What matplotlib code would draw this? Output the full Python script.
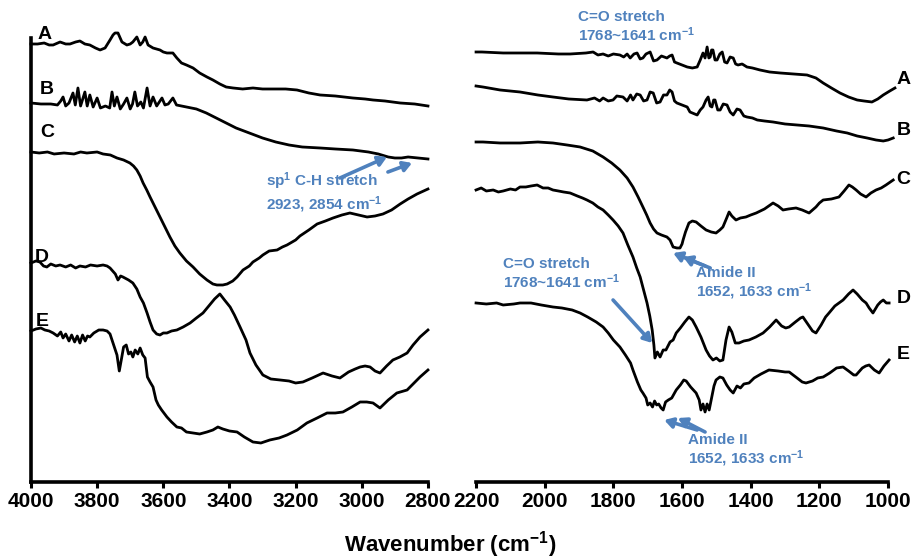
import matplotlib
matplotlib.use("Agg")
import matplotlib.pyplot as plt

plt.rcParams["font.family"] = ["Liberation Sans", "DejaVu Sans"]
plt.rcParams["font.weight"] = "bold"
plt.rcParams["mathtext.fontset"] = "custom"
plt.rcParams["mathtext.rm"] = "Liberation Sans:bold"
plt.rcParams["mathtext.bf"] = "Liberation Sans:bold"
plt.rcParams["mathtext.it"] = "Liberation Sans:bold"

BLUE = "#4F81BD"

# ---- high wavenumber region, (cm-1, stacked transmittance a.u.) ----
left_a = [(4000, 456), (3980, 456), (3960, 457), (3945, 455), (3933, 455), (3912, 458), (3895, 456),
          (3882, 456), (3865, 458), (3852, 459), (3837, 456), (3822, 455), (3805, 452), (3791, 450),
          (3776, 452), (3761, 460), (3752, 465), (3746, 467), (3737, 467), (3725, 458), (3710, 455),
          (3700, 456), (3692, 458), (3680, 463), (3670, 455), (3662, 458), (3655, 463), (3646, 455),
          (3631, 452), (3610, 450), (3600, 448), (3589, 447), (3571, 447), (3559, 442), (3545, 437),
          (3530, 435), (3510, 432), (3490, 427), (3468, 423), (3450, 420), (3429, 416), (3410, 413),
          (3389, 412), (3360, 411), (3329, 412), (3300, 411), (3260, 411), (3230, 411), (3196, 410),
          (3160, 407), (3126, 405), (3080, 404), (3027, 402), (2990, 401), (2966, 400), (2930, 399),
          (2884, 397), (2840, 396), (2800, 394)]
left_b = [(4000, 397), (3970, 396), (3940, 396), (3920, 395), (3910, 399), (3903, 403), (3895, 394),
          (3885, 397), (3873, 407), (3866, 395), (3858, 412), (3850, 394), (3837, 408), (3830, 394),
          (3822, 405), (3812, 393), (3800, 402), (3790, 392), (3775, 394), (3762, 392), (3755, 408),
          (3748, 394), (3740, 403), (3730, 391), (3720, 396), (3710, 402), (3700, 391), (3693, 396),
          (3686, 408), (3678, 394), (3668, 398), (3660, 392), (3649, 412), (3640, 394), (3631, 403),
          (3620, 394), (3604, 402), (3595, 395), (3585, 396), (3571, 402), (3560, 395), (3530, 393),
          (3500, 391), (3470, 387), (3440, 382), (3410, 377), (3380, 372), (3340, 367), (3300, 362),
          (3260, 358), (3220, 355), (3180, 353), (3126, 352), (3080, 351), (3027, 350), (2980, 348),
          (2950, 346), (2920, 343), (2900, 342), (2880, 342), (2860, 343), (2830, 342), (2800, 341)]
left_c = [(4000, 348), (3975, 347), (3950, 348), (3930, 346), (3900, 347), (3870, 346), (3850, 348),
          (3831, 347), (3800, 348), (3782, 346), (3760, 345), (3740, 342), (3720, 340), (3701, 337),
          (3690, 334), (3680, 330), (3670, 324), (3661, 317), (3650, 310), (3640, 303), (3625, 293),
          (3610, 283), (3595, 273), (3580, 263), (3565, 254), (3550, 247), (3530, 239), (3510, 233),
          (3490, 226), (3468, 220), (3450, 216), (3438, 215), (3420, 215), (3407, 216), (3390, 219),
          (3377, 223), (3359, 230), (3340, 234), (3329, 238), (3310, 242), (3299, 245), (3280, 249),
          (3256, 250), (3240, 253), (3226, 255), (3200, 260), (3187, 264), (3160, 270), (3135, 276),
          (3110, 279), (3087, 282), (3060, 285), (3036, 287), (3010, 285), (2984, 283), (2960, 284),
          (2936, 286), (2910, 290), (2884, 296), (2860, 301), (2833, 306), (2800, 311)]
left_d = [(4000, 237), (3985, 239), (3973, 238), (3962, 234), (3952, 233), (3940, 236), (3925, 234),
          (3912, 235), (3895, 233), (3880, 235), (3865, 232), (3852, 234), (3835, 233), (3820, 235),
          (3800, 234), (3782, 235), (3770, 234), (3761, 232), (3745, 226), (3737, 220), (3729, 224),
          (3722, 223), (3705, 220), (3692, 217), (3680, 211), (3670, 203), (3660, 197), (3649, 187),
          (3640, 178), (3631, 170), (3620, 166), (3610, 165), (3600, 167), (3589, 167), (3575, 169),
          (3559, 170), (3540, 173), (3519, 177), (3500, 182), (3480, 187), (3460, 195), (3445, 201),
          (3429, 206), (3415, 200), (3398, 193), (3385, 185), (3368, 173), (3350, 160), (3338, 147),
          (3320, 135), (3299, 125), (3275, 121), (3247, 120), (3220, 119), (3200, 117), (3178, 118),
          (3150, 122), (3117, 127), (3090, 124), (3066, 122), (3040, 128), (3020, 131), (3005, 133),
          (2990, 134), (2975, 133), (2960, 129), (2945, 127), (2925, 134), (2906, 140), (2885, 143),
          (2863, 147), (2845, 155), (2824, 163), (2800, 170)]
left_e = [(4000, 169), (3985, 171), (3970, 172), (3958, 170), (3945, 169), (3933, 167), (3920, 164),
          (3910, 168), (3903, 162), (3895, 166), (3885, 159), (3877, 165), (3868, 158), (3860, 164),
          (3852, 157), (3844, 165), (3836, 159), (3829, 164), (3822, 163), (3810, 167), (3795, 170),
          (3782, 170), (3770, 169), (3761, 166), (3752, 157), (3745, 150), (3740, 145), (3733, 129),
          (3727, 140), (3720, 153), (3712, 155), (3705, 146), (3698, 148), (3692, 143), (3685, 150),
          (3677, 146), (3670, 152), (3662, 145), (3655, 142), (3648, 123), (3640, 118), (3631, 113),
          (3622, 100), (3615, 95), (3605, 90), (3589, 83), (3575, 78), (3559, 73), (3545, 72),
          (3530, 68), (3510, 67), (3490, 66), (3468, 68), (3450, 70), (3435, 73), (3420, 71),
          (3400, 69), (3377, 68), (3355, 63), (3329, 58), (3305, 57), (3278, 60), (3250, 62),
          (3226, 65), (3195, 70), (3166, 77), (3135, 82), (3105, 87), (3080, 87), (3057, 88),
          (3030, 93), (3005, 98), (2985, 98), (2966, 97), (2945, 92), (2920, 100), (2894, 107),
          (2863, 110), (2845, 116), (2824, 123), (2800, 130)]

# ---- fingerprint region ----
right_a = [(2200, 448), (2183, 448), (2121, 447), (2060, 447), (2022, 447), (1960, 446), (1926, 446),
           (1880, 447), (1859, 448), (1845, 445), (1830, 446), (1815, 444), (1800, 446), (1781, 445),
           (1770, 443), (1760, 446), (1751, 442), (1740, 446), (1731, 447), (1722, 441), (1714, 442),
           (1705, 446), (1693, 448), (1683, 439), (1673, 440), (1660, 444), (1644, 442), (1636, 444),
           (1629, 445), (1622, 438), (1615, 437), (1600, 435), (1585, 433), (1570, 432), (1556, 433),
           (1547, 440), (1539, 447), (1533, 442), (1527, 453), (1522, 442), (1518, 443), (1514, 450),
           (1510, 450), (1504, 440), (1498, 440), (1490, 446), (1483, 448), (1476, 438), (1469, 437),
           (1460, 443), (1451, 442), (1444, 436), (1437, 435), (1425, 436), (1411, 433), (1395, 432),
           (1373, 430), (1345, 428), (1314, 427), (1275, 426), (1236, 425), (1210, 422), (1189, 417),
           (1165, 412), (1140, 407), (1115, 403), (1090, 400), (1070, 399), (1047, 398), (1030, 401),
           (1014, 405), (995, 409), (980, 412)]
right_b = [(2200, 414), (2180, 413), (2130, 410), (2072, 408), (2020, 405), (1976, 403), (1930, 401),
           (1877, 400), (1855, 402), (1840, 399), (1830, 402), (1815, 399), (1801, 400), (1790, 404),
           (1772, 403), (1760, 399), (1750, 405), (1743, 400), (1732, 406), (1722, 405), (1712, 399),
           (1702, 400), (1693, 408), (1684, 407), (1674, 397), (1664, 398), (1654, 405), (1644, 405),
           (1636, 410), (1629, 408), (1622, 399), (1615, 397), (1600, 395), (1585, 393), (1577, 388),
           (1556, 385), (1547, 390), (1539, 393), (1530, 400), (1524, 403), (1518, 394), (1513, 393),
           (1508, 400), (1504, 400), (1496, 390), (1489, 390), (1480, 396), (1469, 395), (1460, 388),
           (1451, 385), (1440, 391), (1431, 390), (1420, 384), (1411, 383), (1395, 382), (1381, 380),
           (1360, 379), (1335, 378), (1300, 376), (1265, 375), (1230, 374), (1189, 372), (1150, 369),
           (1119, 367), (1090, 364), (1061, 362), (1035, 360), (1014, 359), (1000, 360), (985, 362)]
right_c = [(2200, 358), (2180, 358), (2130, 357), (2072, 357), (2020, 358), (1976, 357), (1935, 355),
           (1897, 353), (1860, 349), (1830, 343), (1805, 337), (1781, 330), (1760, 322), (1743, 313),
           (1728, 303), (1714, 293), (1703, 285), (1693, 277), (1683, 271), (1673, 267), (1660, 265),
           (1644, 263), (1635, 260), (1626, 253), (1615, 252), (1606, 252), (1600, 256), (1597, 260),
           (1590, 268), (1580, 277), (1570, 279), (1559, 278), (1545, 274), (1530, 270), (1515, 268),
           (1501, 267), (1490, 270), (1481, 273), (1470, 282), (1463, 288), (1455, 284), (1443, 280),
           (1430, 282), (1414, 283), (1400, 285), (1384, 287), (1360, 291), (1335, 297), (1320, 294),
           (1306, 290), (1290, 291), (1268, 292), (1250, 290), (1230, 287), (1220, 290), (1210, 293),
           (1200, 297), (1189, 300), (1165, 301), (1143, 303), (1128, 309), (1114, 315), (1104, 313),
           (1093, 310), (1080, 306), (1064, 303), (1050, 307), (1035, 310), (1020, 312), (1006, 315),
           (985, 320)]
right_d = [(2200, 310), (2185, 312), (2170, 309), (2150, 310), (2135, 308), (2121, 309), (2100, 311),
           (2085, 310), (2072, 313), (2055, 313), (2040, 314), (2022, 315), (2005, 312), (1990, 312),
           (1976, 310), (1960, 309), (1945, 308), (1926, 307), (1905, 304), (1890, 302), (1877, 300),
           (1860, 297), (1845, 293), (1830, 290), (1815, 285), (1801, 280), (1786, 274), (1772, 267),
           (1758, 255), (1743, 243), (1732, 232), (1722, 223), (1712, 210), (1702, 197), (1694, 184),
           (1687, 170), (1682, 155), (1679, 142), (1672, 148), (1664, 143), (1655, 150), (1647, 150),
           (1635, 158), (1626, 160), (1617, 167), (1605, 172), (1592, 178), (1580, 183), (1570, 180),
           (1559, 173), (1545, 163), (1530, 150), (1520, 144), (1510, 140), (1500, 142), (1490, 139),
           (1481, 140), (1472, 160), (1463, 173), (1455, 168), (1445, 157), (1434, 157), (1420, 159),
           (1405, 160), (1385, 163), (1364, 167), (1345, 173), (1326, 180), (1310, 174), (1298, 172),
           (1288, 173), (1270, 178), (1255, 182), (1248, 183), (1230, 174), (1220, 169), (1210, 167),
           (1195, 175), (1182, 183), (1172, 187), (1155, 194), (1131, 200), (1115, 206), (1102, 210),
           (1090, 206), (1075, 200), (1064, 197), (1055, 192), (1044, 187), (1030, 195), (1022, 198),
           (1014, 200), (1005, 197), (997, 197)]
right_e = [(2200, 197), (2170, 196), (2140, 197), (2121, 195), (2090, 196), (2072, 197), (2040, 197),
           (2010, 195), (1976, 193), (1950, 192), (1920, 190), (1897, 187), (1875, 183), (1850, 178),
           (1830, 173), (1815, 167), (1800, 160), (1781, 153), (1765, 145), (1750, 137), (1743, 130),
           (1730, 118), (1720, 110), (1714, 107), (1705, 102), (1700, 95), (1693, 97), (1686, 93),
           (1680, 99), (1674, 95), (1668, 96), (1661, 92), (1655, 90), (1648, 98), (1640, 100),
           (1630, 102), (1617, 110), (1605, 115), (1595, 120), (1588, 119), (1575, 113), (1559, 107),
           (1550, 100), (1545, 90), (1539, 96), (1533, 88), (1527, 96), (1521, 90), (1514, 102),
           (1507, 114), (1501, 120), (1490, 123), (1481, 122), (1470, 115), (1460, 110), (1451, 107),
           (1440, 114), (1430, 112), (1420, 116), (1405, 117), (1390, 122), (1370, 126), (1347, 130),
           (1320, 129), (1300, 128), (1288, 128), (1265, 122), (1250, 118), (1239, 117), (1220, 119),
           (1205, 122), (1189, 123), (1170, 127), (1150, 132), (1131, 133), (1115, 129), (1100, 125),
           (1093, 125), (1075, 132), (1065, 134), (1055, 135), (1040, 130), (1026, 127), (1012, 134),
           (997, 140)]

labels = ["A", "B", "C", "D", "E"]
left_ticks = [4000, 3800, 3600, 3400, 3200, 3000, 2800]
right_ticks = [2200, 2000, 1800, 1600, 1400, 1200, 1000]


def draw(ax, curves):
    for c in curves:
        wn, t = zip(*c)
        ax.plot(wn, t, color="black", lw=2.0, clip_on=False, solid_joinstyle="round")


def style(ax, ticks):
    ax.set_ylim(18, 480)
    ax.set_xticks(ticks)
    ax.set_xticklabels([str(t) for t in ticks], fontsize=15, fontweight="bold")
    ax.set_yticks([])
    ax.tick_params(axis="x", direction="out", length=4, width=2.2, pad=3)
    for s in ["top", "right"]:
        ax.spines[s].set_visible(False)
    ax.spines["bottom"].set_linewidth(2.6)
    ax.spines["left"].set_linewidth(2.6)


fig = plt.figure(figsize=(9.16, 5.6), dpi=100)
ax1 = fig.add_axes([0.0338, 0.1393, 0.4334, 0.825])
ax2 = fig.add_axes([0.5197, 0.1393, 0.4498, 0.825])

draw(ax1, [left_a, left_b, left_c, left_d, left_e])
draw(ax2, [right_a, right_b, right_c, right_d, right_e])
ax1.set_xlim(4000, 2800)
ax2.set_xlim(2200, 1000)
style(ax1, left_ticks)
style(ax2, right_ticks)
ax1.spines["left"].set_bounds(18, 462)
ax2.spines["left"].set_visible(False)

# curve letters
for lab, (x, y) in zip(labels, [(3958, 465), (3952, 410), (3952, 367), (3967, 242), (3967, 178)]):
    ax1.text(x, y, lab, fontsize=14, fontweight="bold", ha="center", va="center")
for lab, y in zip(labels, [420, 369, 320, 201, 145]):
    ax2.text(975, y, lab, fontsize=14, fontweight="bold", ha="left", va="center", clip_on=False)

# annotations
akw = dict(arrowstyle="-|>,head_length=0.5,head_width=0.3", color=BLUE, lw=2.6, shrinkA=0, shrinkB=0)
tkw = dict(color=BLUE, fontsize=11, fontweight="bold", ha="left", va="center", linespacing=1.15)
ax1.text(3290, 307, "sp$^{1}$ C-H stretch\n2923, 2854 cm$^{-1}$", **tkw)
ax1.annotate("", xy=(2924, 343), xytext=(3066, 322), arrowprops=akw)
ax1.annotate("", xy=(2848, 337), xytext=(2921, 328), arrowprops=akw)

ax2.text(1903, 473, "C=O stretch\n1768~1641 cm$^{-1}$", **tkw)
ax2.text(2121, 226, "C=O stretch\n1768~1641 cm$^{-1}$", **tkw)
ax2.annotate("", xy=(1687, 157), xytext=(1801, 200), arrowprops=akw)

ax2.text(1559, 216, "Amide II\n1652, 1633 cm$^{-1}$", **tkw)
ax2.annotate("", xy=(1626, 247), xytext=(1533, 234), arrowprops=akw)
ax2.annotate("", xy=(1597, 243), xytext=(1518, 232), arrowprops=akw)

ax2.text(1582, 49, "Amide II\n1652, 1633 cm$^{-1}$", **tkw)
ax2.annotate("", xy=(1652, 80), xytext=(1556, 70), arrowprops=akw)
ax2.annotate("", xy=(1612, 82), xytext=(1533, 68), arrowprops=akw)

fig.text(0.491, 0.027, "Wavenumber (cm$^{-1}$)", fontsize=16, fontweight="bold",
         ha="center", va="center")

fig.savefig("out.png", dpi=100)
